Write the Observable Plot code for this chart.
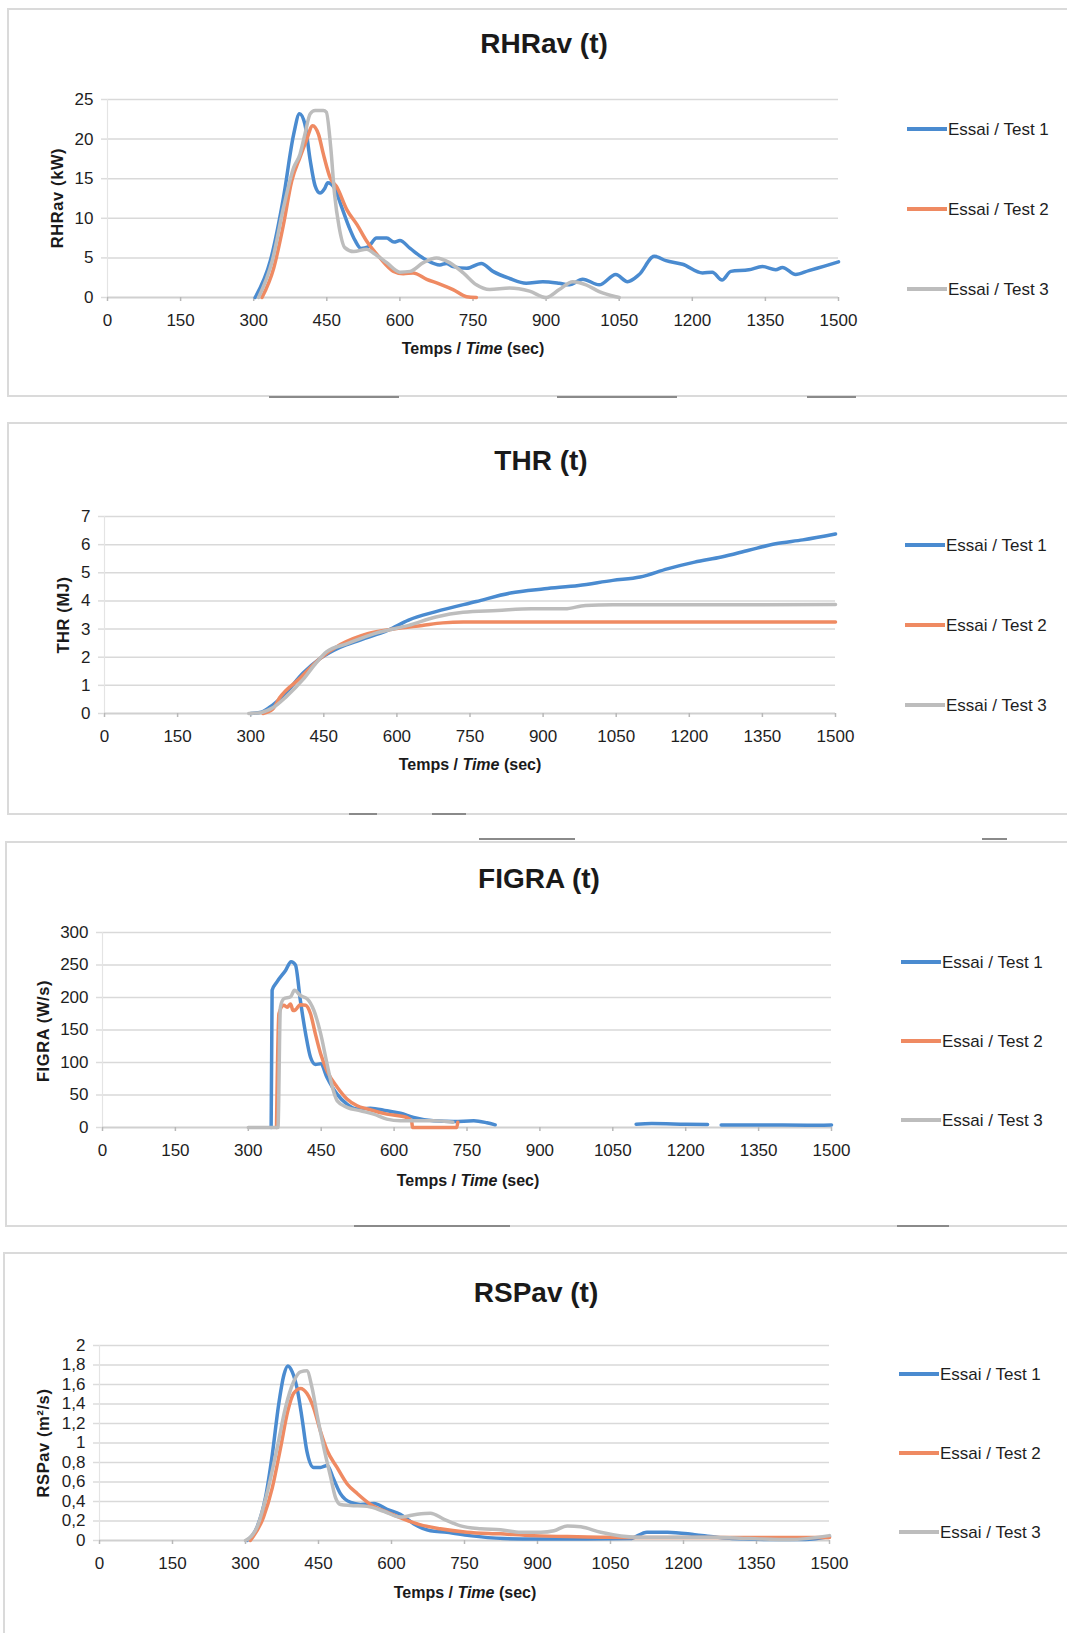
<!DOCTYPE html>
<html>
<head>
<meta charset="utf-8">
<script src="https://cdn.jsdelivr.net/npm/d3@7"></script>
<script src="https://cdn.jsdelivr.net/npm/@observablehq/plot@0.6"></script>
<style>
  html, body { margin: 0; padding: 0; background: #fff; }
  body { width: 1067px; height: 1633px; position: relative; overflow: hidden;
         font-family: "Liberation Sans", Arial, sans-serif; color: #262626; }
  .panel { position: absolute; box-sizing: border-box; border: 2px solid #dadada; }
  .chart { position: absolute; left: 0; }
  .chart svg { overflow: visible; }
  #overlay { position: absolute; left: 0; top: 0; pointer-events: none; }
</style>
</head>
<body>
<script>
// ---------------- DATA ----------------
const seriesNames = ["Essai / Test 1", "Essai / Test 2", "Essai / Test 3"];
const xTicks = [0, 150, 300, 450, 600, 750, 900, 1050, 1200, 1350, 1500];

// RHRav (kW) — [time s, value]
const rhrav_test1 = [[303,0],[334,4.6],[361,12.6],[382,20.6],[394,23.2],[405,21.9],[416,17.3],[426,14.1],[436,13.2],[446,13.8],[452,14.5],[465,13.9],[480,11.5],[495,9.0],[508,7.2],[520,6.2],[535,6.4],[552,7.5],[573,7.5],[588,7.0],[600,7.2],[621,6.2],[655,4.7],[682,4.1],[695,4.3],[709,3.9],[737,3.7],[767,4.3],[791,3.3],[825,2.4],[859,1.8],[893,2.0],[927,1.8],[948,1.6],[975,2.3],[1009,1.6],[1043,2.9],[1067,2.0],[1091,2.9],[1122,5.2],[1146,4.65],[1180,4.2],[1221,3.1],[1241,3.2],[1261,2.2],[1279,3.3],[1316,3.5],[1344,3.9],[1371,3.5],[1385,3.8],[1412,2.9],[1439,3.4],[1473,4.0],[1500,4.5]];
const rhrav_test2 = [[317,0],[341,3.7],[361,9.2],[378,14.7],[395,17.7],[408,19.8],[421,21.7],[433,20.6],[443,18.1],[457,15.1],[471,13.9],[491,11.1],[512,9.2],[532,7.1],[559,5.0],[587,3.3],[607,3.0],[627,3.1],[655,2.3],[682,1.7],[709,1.0],[737,0.1],[757,0]];
const rhrav_test3 = [[310,0],[338,4.6],[361,11.3],[382,16.4],[395,18.1],[405,20.6],[416,23.2],[426,23.6],[443,23.6],[449,23.4],[458,19.0],[466,13.0],[475,9.0],[487,6.3],[505,5.8],[532,6.1],[546,5.6],[573,4.4],[600,3.2],[621,3.3],[648,4.4],[675,5.0],[702,4.4],[730,3.1],[757,1.6],[784,1.0],[825,1.2],[866,0.8],[900,0],[927,1.0],[955,2.0],[982,1.6],[1009,0.75],[1043,0.1],[1050,0]];
const rhravTicks = [0, 5, 10, 15, 20, 25];

// THR (MJ)
const thr_test1 = [[300,0],[322,0.05],[345,0.3],[373,0.75],[407,1.43],[442,1.95],[484,2.36],[526,2.62],[582,2.96],[624,3.32],[680,3.62],[763,3.98],[833,4.28],[903,4.43],[973,4.55],[1043,4.73],[1099,4.85],[1155,5.14],[1211,5.38],[1266,5.56],[1322,5.8],[1377,6.03],[1433,6.17],[1500,6.38]];
const thr_test2 = [[325,0],[345,0.15],[359,0.55],[401,1.25],[442,1.95],[484,2.45],[540,2.84],[596,3.01],[652,3.13],[694,3.22],[736,3.25],[1100,3.25],[1500,3.25]];
const thr_test3 = [[296,0],[320,0.03],[345,0.2],[373,0.6],[407,1.2],[432,1.75],[456,2.2],[498,2.48],[554,2.84],[624,3.13],[680,3.43],[736,3.6],[806,3.66],[876,3.72],[945,3.72],[987,3.84],[1043,3.86],[1500,3.87]];
const thrTicks = [0, 1, 2, 3, 4, 5, 6, 7];

// FIGRA (W/s) — null marks a gap in the curve
const figra_test1 = [[347,0],[349,211],[359,224],[377,242],[388,255],[397,250],[407,196],[418,144],[428,108],[438,97],[449,98],[462,77],[483,51],[503,36],[524,28.3],[551,29.8],[585,25.7],[613,22],[640,15.5],[681,10.3],[723,9.3],[764,10.3],[791,7.2],[808,4.1],[809,null],[1098,5],[1130,6],[1200,5],[1245,4.5],[1246,null],[1273,4],[1350,4],[1450,3.5],[1500,4]];
const figra_test2 = [[358,0],[363,175],[373,188],[380,185],[387,190],[392,180],[397,181],[407,189],[418,188],[428,175],[438,144],[449,113],[462,87],[483,62],[503,44],[524,33.5],[545,28.5],[585,20.6],[626,15.4],[636,10],[638,0],[729,0],[731,8]];
const figra_test3 = [[300,0],[361,0],[366,185],[373,198],[387,201],[395,211],[407,203],[421,198],[435,180],[449,144],[462,98],[473,62],[483,41],[503,31],[531,25.7],[558,20.6],[585,12.9],[613,10.3],[647,10.3],[681,10.3],[721,8]];
const figraTicks = [0, 50, 100, 150, 200, 250, 300];

// RSPav (m²/s)
const rspav_test1 = [[303,0],[324,0.14],[341,0.44],[355,0.88],[368,1.39],[379,1.70],[387,1.79],[396,1.73],[406,1.56],[416,1.26],[426,0.92],[440,0.75],[454,0.75],[468,0.77],[481,0.63],[495,0.48],[516,0.39],[536,0.37],[564,0.38],[591,0.32],[618,0.27],[646,0.17],[680,0.10],[714,0.085],[760,0.05],[831,0.02],[900,0.015],[1000,0.015],[1090,0.02],[1125,0.085],[1167,0.085],[1223,0.06],[1265,0.035],[1300,0.02],[1400,0.01],[1450,0.01],[1500,0.04]];
const rspav_test2 = [[310,0],[337,0.24],[355,0.54],[372,0.95],[387,1.33],[399,1.51],[413,1.56],[426,1.51],[440,1.36],[454,1.12],[468,0.92],[488,0.75],[509,0.58],[530,0.48],[557,0.37],[591,0.29],[625,0.22],[660,0.16],[700,0.12],[755,0.085],[824,0.068],[892,0.05],[961,0.04],[1030,0.034],[1100,0.03],[1200,0.03],[1300,0.03],[1400,0.03],[1500,0.03]];
const rspav_test3 = [[300,0],[324,0.14],[344,0.48],[365,0.95],[382,1.36],[399,1.63],[413,1.73],[426,1.74],[437,1.56],[447,1.29],[461,0.95],[475,0.65],[485,0.44],[495,0.37],[516,0.36],[550,0.35],[584,0.30],[618,0.24],[653,0.27],[680,0.28],[707,0.22],[742,0.15],[783,0.12],[824,0.11],[866,0.085],[907,0.085],[934,0.10],[961,0.15],[989,0.14],[1030,0.085],[1104,0.034],[1265,0.034],[1335,0.02],[1419,0.01],[1500,0.05]];
const rspavTicks = [0, 0.2, 0.4, 0.6, 0.8, 1, 1.2, 1.4, 1.6, 1.8, 2];

// ---------------- STYLE / LAYOUT ----------------
const colors = ["#4a8bd0", "#ef8a62", "#bdbdbd"];
const FONT = '"Liberation Sans", Arial, sans-serif';

const charts = [
  { title: "RHRav (t)", ytitle: "RHRav (kW)", series: [rhrav_test1, rhrav_test2, rhrav_test3], yTicks: rhravTicks, fmt: d => String(d),
    x0: 107, x1: 838, y0: 99, y1: 297, titleX: 544, titleY: 53, yTitleX: 56.5, yTitleY: 198, xTitleX: 473, xTitleY: 354,
    legX: 907, legY: [129, 209, 289], panel: { l: 7, t: 8, b: 397 } },
  { title: "THR (t)", ytitle: "THR (MJ)", series: [thr_test1, thr_test2, thr_test3], yTicks: thrTicks, fmt: d => String(d),
    x0: 104, x1: 835, y0: 516, y1: 713, titleX: 541, titleY: 470, yTitleX: 63, yTitleY: 615, xTitleX: 470, xTitleY: 770,
    legX: 905, legY: [545, 625, 705], panel: { l: 7, t: 422, b: 815 } },
  { title: "FIGRA (t)", ytitle: "FIGRA (W/s)", series: [figra_test1, figra_test2, figra_test3], yTicks: figraTicks, fmt: d => String(d),
    x0: 102, x1: 831, y0: 932, y1: 1127, titleX: 539, titleY: 888, yTitleX: 43, yTitleY: 1031, xTitleX: 468, xTitleY: 1186,
    legX: 901, legY: [962, 1041, 1120], panel: { l: 5, t: 841, b: 1227 } },
  { title: "RSPav (t)", ytitle: "RSPav (m²/s)", series: [rspav_test1, rspav_test2, rspav_test3], yTicks: rspavTicks, fmt: d => String(d).replace(".", ","),
    x0: 99, x1: 829, y0: 1345, y1: 1540, titleX: 536, titleY: 1302, yTitleX: 43, yTitleY: 1443, xTitleX: 465, xTitleY: 1598,
    legX: 899, legY: [1374, 1453, 1532], panel: { l: 3, t: 1252, b: 1700 } }
];

// panels
for (const c of charts) {
  const p = document.createElement("div");
  p.className = "panel";
  p.style.left = c.panel.l + "px";
  p.style.top = c.panel.t + "px";
  p.style.width = (1075 - c.panel.l) + "px";
  p.style.height = (c.panel.b - c.panel.t) + "px";
  document.body.appendChild(p);
}

// charts
const SVG_W = 860, MT = 20, MB = 42;
for (const c of charts) {
  const data = c.series.flatMap((s, i) => s.map(([t, v]) => ({ t, v: v == null ? NaN : v, k: seriesNames[i] })));
  const yMax = c.yTicks[c.yTicks.length - 1];
  const chart = Plot.plot({
    width: SVG_W,
    height: (c.y1 - c.y0) + MT + MB,
    marginLeft: c.x0, marginRight: SVG_W - c.x1, marginTop: MT, marginBottom: MB,
    style: { fontFamily: FONT, fontSize: "17px", color: "#262626", background: "transparent", overflow: "visible" },
    x: { domain: [0, 1500] },
    y: { domain: [0, yMax] },
    marks: [
      Plot.gridY(c.yTicks.filter(d => d > 0), { stroke: "#d9d9d9", strokeOpacity: 1, strokeWidth: 1.5 }),
      Plot.ruleX([0], { stroke: "#e4e4e4", strokeWidth: 1.2 }),
      Plot.ruleY([0], { stroke: "#d0d0d0", strokeWidth: 2 }),
      Plot.axisX(xTicks, { tickSize: 4, tickPadding: 12, stroke: "#b8b8b8", strokeWidth: 1.5, fill: "#1e1e1e", fontSize: 17, tickFormat: d => String(d), label: null }),
      Plot.axisY(c.yTicks, { tickSize: 6, tickPadding: 8, stroke: "#dcdcdc", strokeWidth: 1.5, fill: "#1e1e1e", fontSize: 17, tickFormat: c.fmt, label: null }),
      Plot.line(data, { x: "t", y: "v", z: "k", stroke: "k", strokeWidth: 3.5, curve: "monotone-x", strokeLinejoin: "round", strokeLinecap: "round" })
    ],
    color: { domain: seriesNames, range: colors }
  });
  const div = document.createElement("div");
  div.className = "chart";
  div.style.top = (c.y0 - MT) + "px";
  div.appendChild(chart);
  document.body.appendChild(div);
}

// overlay: titles, axis titles, legends
const ov = d3.select("body").append("svg").attr("id", "overlay")
  .attr("width", 1067).attr("height", 1633)
  .style("font-family", FONT).style("fill", "#262626");

// scan artifacts (page edges)
const dashes = [[269,399,397],[557,677,397],[807,856,397],[349,377,814],[432,466,814],[479,575,839],[982,1007,839],[354,510,1226],[897,949,1226]];
for (const [a, b, y] of dashes) ov.append("line").attr("x1", a).attr("x2", b).attr("y1", y).attr("y2", y).attr("stroke", "#8a8a8a").attr("stroke-width", 2);

for (const c of charts) {
  ov.append("text").attr("x", c.titleX).attr("y", c.titleY).attr("text-anchor", "middle")
    .attr("font-size", 28).attr("font-weight", "bold").attr("fill", "#1a1a1a").text(c.title);
  ov.append("text").attr("transform", `translate(${c.yTitleX + 6},${c.yTitleY}) rotate(-90)`)
    .attr("text-anchor", "middle").attr("font-size", 16.5).attr("letter-spacing", 0.6)
    .attr("font-weight", "bold").attr("fill", "#1a1a1a").text(c.ytitle);
  const xt = ov.append("text").attr("x", c.xTitleX).attr("y", c.xTitleY).attr("text-anchor", "middle")
    .attr("font-size", 16).attr("font-weight", "bold").attr("fill", "#1a1a1a");
  xt.append("tspan").text("Temps / ");
  xt.append("tspan").attr("font-style", "italic").text("Time");
  xt.append("tspan").text(" (sec)");
  seriesNames.forEach((name, i) => {
    const y = c.legY[i];
    ov.append("line").attr("x1", c.legX).attr("x2", c.legX + 40).attr("y1", y).attr("y2", y)
      .attr("stroke", colors[i]).attr("stroke-width", 4);
    ov.append("text").attr("x", c.legX + 41).attr("y", y + 6).attr("font-size", 17).attr("fill", "#1e1e1e").text(name);
  });
}
</script>
</body>
</html>
